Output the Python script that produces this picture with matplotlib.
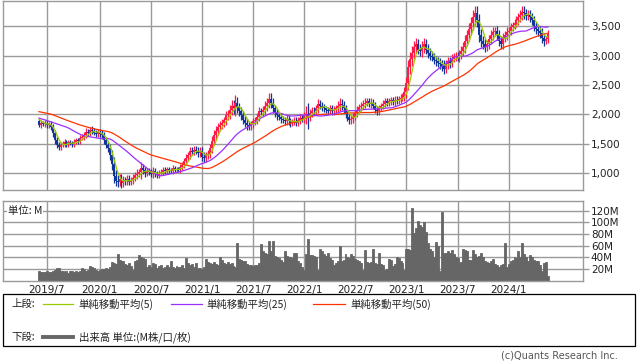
import numpy as np
import pandas as pd
import matplotlib
matplotlib.use("Agg")
import matplotlib.pyplot as plt
from matplotlib.lines import Line2D
from matplotlib.patches import Rectangle

plt.rcParams["font.family"] = ["Noto Sans CJK JP", "DejaVu Sans"]

W, H = 638, 362

# weekly closes before the visible window (only feed the moving averages)
pre_close = [
    2200, 2240, 2180, 2150, 2120, 2160, 2200, 2230, 2180, 2140,
    2100, 2130, 2170, 2150, 2120, 2090, 2110, 2150, 2180, 2160,
    2130, 2120, 2150, 2170, 2140,
    2120, 2100, 2080, 2110, 2090, 2060,
    1950, 1820, 1760, 1740, 1780, 1760, 1790, 1820,
    1880, 1950, 2000, 2020, 1990, 2010, 1980, 1960, 1930, 1880,
]

# weekly closes from the week of 2019-06-03
close = [
    1820, 1850, 1835, 1860, 1810, 1830, 1780, 1680, 1560, 1470,
    1440, 1480, 1500, 1530, 1490, 1520, 1510, 1490, 1530, 1560,
    1540, 1600, 1620, 1650, 1700, 1680, 1740, 1720, 1690, 1660,
    1700, 1670, 1640, 1560, 1480, 1420, 1300, 1150, 950, 870,
    850, 900, 830, 880, 860, 900, 850, 880, 920, 960,
    990, 1010, 1080, 1050, 1000, 1030, 1010, 980, 1040, 990,
    960, 1000, 1020, 1050, 1030, 1060, 1050, 1040, 1080, 1060,
    1070, 1050, 1100, 1140, 1200, 1260, 1300, 1380, 1360, 1400,
    1380, 1340, 1370, 1280, 1250, 1300, 1330, 1420, 1550, 1650,
    1720, 1780, 1820, 1850, 1900, 1980, 2000, 2080, 2150, 2100,
    2200, 2120, 2050, 1980, 1900, 1850, 1820, 1800, 1830, 1880,
    1900, 1960, 2050, 2040, 2080, 2140, 2200, 2260, 2200, 2100,
    2020, 1980, 1960, 1920, 1900, 1880, 1920, 1880, 1850, 1870,
    1890, 1860, 1900, 1940, 1920, 1980, 2000, 1950, 2020, 2060,
    2050, 2100, 2180, 2150, 2120, 2100, 2080, 2060, 2100, 2050,
    2080, 2100, 2150, 2180, 2160, 2100, 2000, 1950, 1900, 1920,
    1960, 2020, 2080, 2120, 2150, 2180, 2200, 2220, 2180, 2200,
    2150, 2080, 2050, 2100, 2150, 2180, 2220, 2200, 2220, 2240,
    2210, 2250, 2230, 2260, 2280, 2300, 2380, 2540, 2800, 2950,
    3050, 3150, 3200, 3100, 3080, 3150, 3200, 3100, 3050, 3000,
    2980, 2920, 2900, 2880, 2850, 2820, 2780, 2850, 2900, 2870,
    2950, 2980, 3000, 2960, 3020, 3080, 3150, 3250, 3350, 3450,
    3550, 3650, 3720, 3600, 3350, 3250, 3200, 3150, 3200, 3280,
    3350, 3400, 3420, 3350, 3250, 3200, 3300, 3350, 3400, 3420,
    3480, 3520, 3560, 3600, 3650, 3700, 3750, 3720, 3680, 3700,
    3650, 3600, 3500, 3450, 3420, 3380, 3300, 3250, 3280, 3370,
]

# wick length beyond the body (yen)
wick = [
    40, 50, 40, 50, 40, 40, 50, 60, 60, 50,
    50, 40, 40, 50, 40, 40, 40, 40, 50, 40,
    40, 50, 40, 50, 60, 50, 50, 60, 50, 50,
    50, 50, 60, 60, 60, 60, 80, 100, 120, 100,
    90, 80, 80, 70, 60, 70, 60, 50, 60, 60,
    70, 60, 110, 70, 60, 50, 50, 50, 60, 50,
    50, 50, 40, 50, 50, 50, 50, 40, 50, 40,
    40, 40, 50, 50, 60, 60, 60, 70, 60, 60,
    60, 60, 70, 80, 70, 60, 60, 70, 80, 80,
    80, 70, 60, 70, 60, 80, 70, 80, 90, 100,
    130, 100, 80, 80, 70, 70, 80, 60, 60, 60,
    60, 70, 70, 60, 70, 80, 80, 100, 100, 80,
    60, 70, 60, 60, 50, 60, 60, 60, 60, 50,
    60, 60, 60, 60, 50, 60, 150, 200, 70, 60,
    60, 60, 80, 60, 60, 60, 50, 50, 60, 60,
    60, 60, 70, 100, 80, 70, 60, 60, 60, 70,
    60, 60, 60, 50, 60, 60, 80, 60, 60, 70,
    60, 60, 60, 60, 50, 60, 50, 60, 60, 60,
    50, 60, 60, 60, 60, 60, 80, 100, 120, 120,
    120, 100, 100, 80, 90, 100, 100, 80, 90, 80,
    80, 70, 80, 80, 80, 80, 100, 80, 70, 80,
    70, 60, 70, 60, 70, 80, 80, 100, 90, 100,
    100, 120, 120, 120, 110, 100, 90, 80, 70, 80,
    80, 80, 70, 80, 80, 80, 90, 70, 80, 70,
    70, 60, 70, 70, 80, 80, 100, 100, 80, 80,
    80, 70, 80, 80, 90, 80, 90, 90, 60, 60,
]

# weekly volume (M)
volume = [
    16, 15, 14, 15, 16, 14, 15, 17, 18, 22,
    21, 16, 17, 15, 16, 13, 16, 17, 14, 16,
    15, 17, 22, 20, 16, 18, 25, 24, 22, 18,
    17, 18, 20, 19, 21, 20, 24, 32, 30, 28,
    46, 35, 33, 34, 28, 26, 30, 25, 18, 33,
    36, 44, 40, 38, 37, 24, 26, 24, 30, 29,
    22, 25, 27, 21, 24, 26, 23, 34, 24, 22,
    25, 23, 24, 26, 22, 38, 30, 26, 28, 24,
    30, 22, 21, 20, 23, 37, 32, 30, 28, 31,
    29, 27, 40, 36, 30, 28, 32, 29, 30, 25,
    24, 65, 37, 35, 34, 33, 28, 27, 26, 25,
    27, 26, 30, 63, 50, 47, 46, 68, 50, 68,
    42, 40, 38, 35, 32, 50, 42, 40, 41, 38,
    47, 47, 33, 30, 24, 18, 46, 72, 44, 44,
    42, 40, 18, 55, 50, 46, 42, 47, 38, 36,
    27, 30, 33, 59, 34, 36, 46, 40, 38, 46,
    42, 37, 35, 33, 30, 18, 53, 31, 30, 31,
    54, 30, 28, 48, 29, 27, 18, 20, 37, 36,
    25, 28, 40, 38, 33, 30, 18, 55, 54, 53,
    125, 82, 90, 102, 95, 92, 100, 84, 64, 54,
    50, 40, 66, 60, 16, 118, 47, 48, 50, 48,
    53, 45, 40, 38, 30, 32, 55, 53, 50, 35,
    36, 53, 45, 40, 42, 48, 40, 34, 32, 30,
    33, 37, 29, 27, 24, 26, 29, 64, 24, 28,
    33, 36, 40, 38, 50, 41, 64, 45, 40, 34,
    44, 40, 35, 34, 33, 27, 17, 30, 31, 7,
]

price_ticks = [1000, 1500, 2000, 2500, 3000, 3500]
vol_ticks = [20, 40, 60, 80, 100, 120]

RED = "#ff1a4a"
BLUE = "#12359a"
GRID = "#9a9a9a"
VOL = "#666666"

close = np.array(close, dtype=float)
wick = np.array(wick, dtype=float)
n_pre = len(pre_close)
series = pd.Series(np.concatenate([pre_close, close]))
ma5 = series.rolling(5).mean().to_numpy()[n_pre:]
ma25 = series.rolling(25).mean().to_numpy()[n_pre:]
ma50 = series.rolling(50).mean().to_numpy()[n_pre:]

open_ = np.concatenate([[pre_close[-1]], close[:-1]])
high = np.maximum(open_, close) + wick
low = np.minimum(open_, close) - wick
x = np.arange(len(close))
up = close >= open_

dates = pd.date_range("2019-06-03", periods=len(close), freq="7D")
tick_idx = [i for i, d in enumerate(dates) if d.month in (1, 7) and d.day <= 7]
tick_lab = [f"{dates[i].year}/{dates[i].month}" for i in tick_idx]

x_left, x_right = -18.3, 276.6

fig = plt.figure(figsize=(W / 100, H / 100), dpi=100)


def style_axes(ax):
    for sp in ax.spines.values():
        sp.set_color(GRID)
        sp.set_linewidth(1.0)
    ax.grid(True, color=GRID, linewidth=1.0)
    ax.set_axisbelow(True)
    ax.yaxis.tick_right()
    ax.tick_params(axis="y", colors=GRID, length=4, width=1.0, pad=2,
                   labelsize=7.5, labelcolor="#222222")
    ax.set_xlim(x_left, x_right)
    ax.set_xticks(tick_idx)


# price panel
ax = fig.add_axes([3 / W, 1 - 190.3 / H, 579.5 / W, 189.3 / H])
style_axes(ax)
ax.set_ylim(705, 3931)
ax.set_yticks(price_ticks)
ax.set_yticklabels([f"{v:,}" for v in price_ticks], family="DejaVu Sans")
ax.tick_params(axis="x", length=0, labelbottom=False)

colors = np.where(up, RED, BLUE)
ax.vlines(x, low, high, colors=colors, linewidth=0.9, zorder=2)
body_lo = np.minimum(open_, close)
body_h = np.maximum(np.abs(close - open_), 8)
ax.bar(x, body_h, bottom=body_lo, width=1.0, color=colors, linewidth=0,
       antialiased=False, zorder=2)

ax.plot(x, ma50, color="#ff3300", linewidth=0.9, zorder=3)
ax.plot(x, ma25, color="#9b30ff", linewidth=0.9, zorder=3)
ax.plot(x, ma5, color="#99cc00", linewidth=0.9, zorder=4)

# volume panel
axv = fig.add_axes([3 / W, 1 - 280.5 / H, 579.5 / W, 79.5 / H])
style_axes(axv)
axv.set_ylim(0, 136.7)
axv.set_yticks(vol_ticks)
axv.set_yticklabels([f"{v}M" for v in vol_ticks], family="DejaVu Sans")
axv.set_xticklabels(tick_lab, family="DejaVu Sans")
axv.tick_params(axis="x", length=0, pad=3, labelsize=7.5, labelcolor="#222222")
axv.bar(x, volume, width=1.0, color=VOL, edgecolor=VOL, linewidth=0.6,
        zorder=2)
axv.text(0.009, 0.88, "単位: M", transform=axv.transAxes, fontsize=7.5,
         va="center", ha="left", color="#222222", zorder=5,
         bbox=dict(facecolor="white", edgecolor="none", pad=0.5))


def fx(px):
    return px / W


def fy(py):
    return 1 - py / H


# legend box
fig.add_artist(Rectangle((fx(3), fy(346)), 632 / W, 52 / H, fill=False,
                         edgecolor="black", linewidth=0.9,
                         transform=fig.transFigure))

txt = dict(fontsize=7.5, va="center", ha="left", color="#222222")
fig.text(fx(11), fy(304), "上段:", **txt)
legend_items = [
    (43, 73, 78, "#99cc00", "単純移動平均(5)"),
    (171, 202, 206, "#9b30ff", "単純移動平均(25)"),
    (313, 345, 350, "#ff3300", "単純移動平均(50)"),
]
for x0, x1, xt, col, lab in legend_items:
    fig.add_artist(Line2D([fx(x0), fx(x1)], [fy(304), fy(304)], color=col,
                          linewidth=0.9, transform=fig.transFigure))
    fig.text(fx(xt), fy(304), lab, **txt)

fig.text(fx(11), fy(337), "下段:", **txt)
fig.add_artist(Line2D([fx(43), fx(73)], [fy(337), fy(337)], color=VOL,
                      linewidth=2.8, transform=fig.transFigure))
fig.text(fx(79), fy(337), "出来高 単位:(M株/口/枚)", **txt)

fig.text(fx(618), fy(356), "(c)Quants Research Inc.", fontsize=7,
         va="center", ha="right", color="#555555", family="DejaVu Sans")

fig.savefig("out.png", dpi=100)
